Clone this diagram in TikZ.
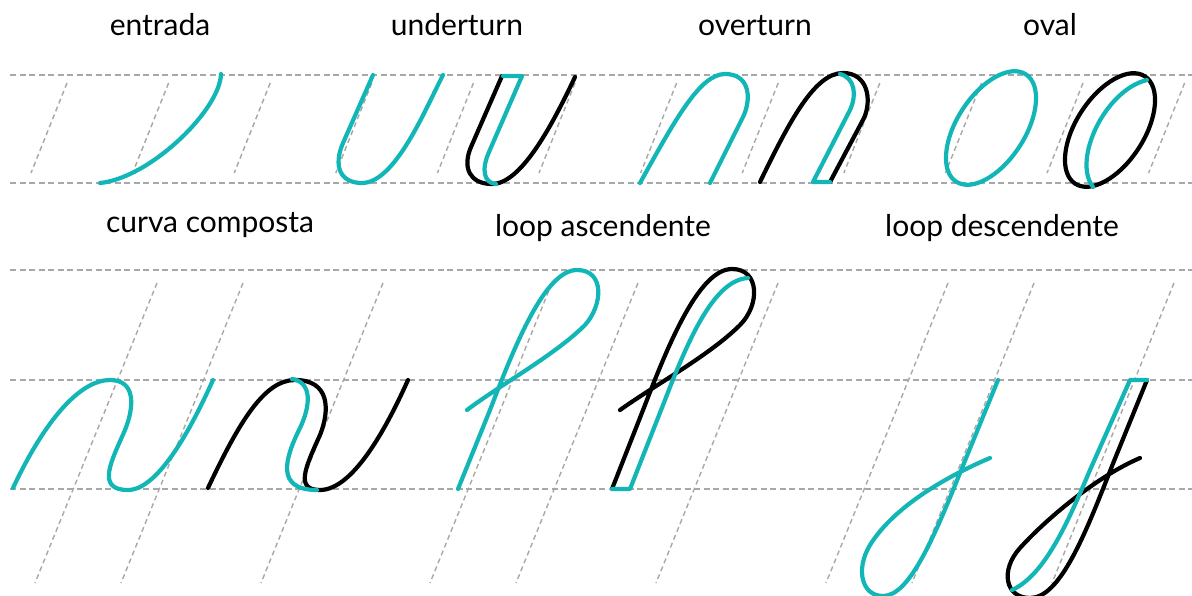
\documentclass[tikz,border=0pt]{standalone}
\usepackage{fontspec}
\setmainfont{Lato}

\definecolor{tealink}{RGB}{18,182,182}
\definecolor{guidegray}{RGB}{168,168,170}

\begin{document}
\begin{tikzpicture}[x=1pt, y=-1pt,
  guide/.style={guidegray, line width=1.4pt, dash pattern=on 6pt off 3.5pt},
  slant/.style={guidegray, line width=1.4pt, dash pattern=on 5pt off 3.5pt},
  newink/.style={tealink, line width=4.2pt, line cap=round, line join=round},
  oldink/.style={black, line width=4.2pt, line cap=round, line join=round},
  lbl/.style={anchor=base, font=\fontsize{30}{34}\selectfont}
]
  \useasboundingbox (0,0) rectangle (1192,596);

  % guide lines
  \foreach \y in {75,183,270,380,489}
    \draw[guide] (10,\y) -- (1192,\y);
  \foreach \k in {0,...,11}
    \draw[slant] ({67+101.6*\k},83) -- ++(-36,90);
  \foreach \x in {157,243,383,552,638,778,948,1034,1174}
    \draw[slant] (\x,283) -- ++(-122,300);

  % labels
  \node[lbl] (entrada)  at (160,36)  {entrada};
  \node[lbl] (under)    at (457,36)  {underturn};
  \node[lbl] (over)     at (755,36)  {overturn};
  \node[lbl] (oval)     at (1050,36) {oval};
  \node[lbl] (composta) at (210,233) {curva composta};
  \node[lbl] (asc)      at (603,237) {loop ascendente};
  \node[lbl] (desc)     at (1002,237) {loop descendente};

  % entrada
  \draw[newink] (100,183) .. controls (150,178) and (220,110) .. (221,74);

  % underturn
  \draw[newink] (373,75) -- (343,143) .. controls (333,166) and (340,183) .. (362,183)
    .. controls (395,183) and (425,110) .. (443,75);
  \draw[oldink] (502,76) -- (471,147) .. controls (462,168) and (470,184) .. (492,184)
    .. controls (520,184) and (550,130) .. (575,77);
  \draw[newink] (503,76) -- (522,76) -- (489,152) .. controls (481,170) and (484,183) .. (496,184);

  % overturn
  \draw[newink] (640,183) .. controls (675,120) and (700,74) .. (725,74)
    .. controls (748,74) and (752,95) .. (744,115) -- (710,183);
  \draw[oldink] (760,182) .. controls (790,120) and (815,73) .. (843,73)
    .. controls (868,73) and (872,100) .. (864,118) -- (830,182);
  \draw[newink] (840,74) .. controls (855,78) and (857,95) .. (850,110) -- (813,182) -- (830,182);

  % oval
  \draw[newink, rotate around={57:(991,128)}] (991,128) ellipse [x radius=64pt, y radius=34pt];
  \draw[oldink, rotate around={57:(1110,130)}] (1110,130) ellipse [x radius=64pt, y radius=34pt];
  \draw[newink] (1147,80) .. controls (1105,90) and (1072,160) .. (1093,187);

  % curva composta
  \draw[newink] (13,488) .. controls (45,420) and (80,380) .. (110,380)
    .. controls (135,380) and (135,405) .. (125,430)
    .. controls (112,460) and (95,490) .. (128,490)
    .. controls (160,490) and (195,420) .. (213,380);
  \draw[oldink] (208,488) .. controls (240,420) and (265,380) .. (295,380)
    .. controls (330,380) and (330,410) .. (320,435)
    .. controls (305,468) and (295,490) .. (320,490)
    .. controls (355,490) and (390,420) .. (408,380);
  \draw[newink] (292,379) .. controls (312,382) and (311,405) .. (300,428)
    .. controls (285,458) and (275,490) .. (317,490);

  % loop ascendente
  \draw[newink] (458,489) -- (490,410) .. controls (515,345) and (545,270) .. (577,270)
    .. controls (605,270) and (603,305) .. (585,325)
    .. controls (555,355) and (500,385) .. (467,410);
  \draw[oldink] (612,489) -- (645,405) .. controls (670,340) and (700,269) .. (732,269)
    .. controls (760,269) and (760,305) .. (740,325)
    .. controls (710,355) and (655,385) .. (620,410);
  \draw[newink] (612,489) -- (630,489) -- (665,400) .. controls (690,335) and (715,280) .. (748,278);

  % loop descendente
  \draw[newink] (998,380) -- (962,468) .. controls (935,535) and (910,596) .. (883,596)
    .. controls (862,596) and (855,570) .. (870,545)
    .. controls (895,505) and (950,475) .. (990,458);
  \draw[oldink] (1147,380) -- (1112,466) .. controls (1085,535) and (1060,598) .. (1030,598)
    .. controls (1005,598) and (1000,570) .. (1020,548)
    .. controls (1050,515) and (1100,475) .. (1140,458);
  \draw[newink] (1147,380) -- (1130,380) -- (1090,470) .. controls (1068,522) and (1045,575) .. (1012,590);
\end{tikzpicture}
\end{document}
